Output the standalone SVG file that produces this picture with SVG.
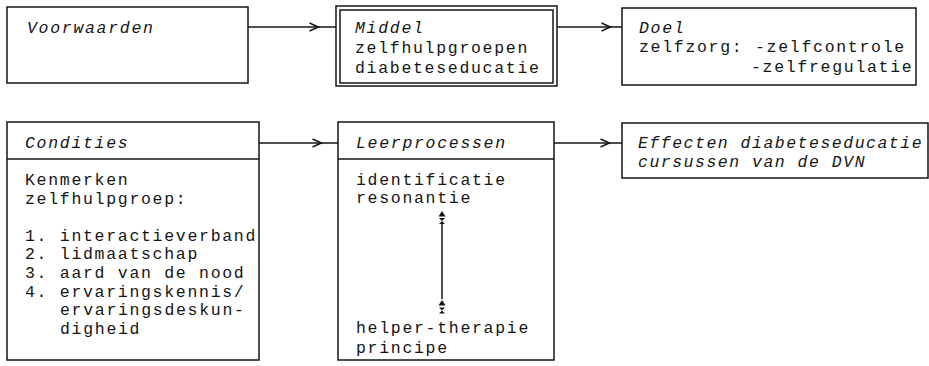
<svg xmlns="http://www.w3.org/2000/svg" width="929" height="366" viewBox="0 0 929 366">
  <style>
    .box { fill: #ffffff; stroke: #151515; stroke-width: 1.5; }
    .line { fill: none; stroke: #151515; stroke-width: 1.5; }
    .head { fill: none; stroke: #151515; stroke-width: 1.4; stroke-linejoin: miter; }
    .t { font-family: "Liberation Mono", "DejaVu Sans Mono", monospace; font-size: 16.5px; letter-spacing: 1.7px; fill: #151515; }
    .i { font-style: italic; }
    .tight { letter-spacing: 1.5px; }
  </style>
  <defs>
    <!-- open chevron used on the typed "-->" connectors -->
    <path id="chev" d="M -4.5 -4 L 4.5 0 L -4.5 4" class="head"/>
  </defs>

  <rect width="929" height="366" fill="#ffffff"/>

  <!-- connectors -->
  <g id="connectors">
    <line class="line" x1="248" y1="27" x2="336" y2="27"/>
    <use href="#chev" x="314" y="27"/>
    <line class="line" x1="557" y1="27" x2="622" y2="27"/>
    <use href="#chev" x="606" y="27"/>
    <line class="line" x1="259" y1="143" x2="338" y2="143"/>
    <use href="#chev" x="317" y="143"/>
    <line class="line" x1="554" y1="143" x2="622" y2="143"/>
    <use href="#chev" x="605" y="143"/>
  </g>

  <!-- top row -->
  <g id="voorwaarden">
    <rect class="box" x="7" y="7" width="241" height="76"/>
    <text class="t i" x="27" y="33">Voorwaarden</text>
  </g>

  <g id="middel">
    <rect class="box" x="336" y="6" width="221" height="80"/>
    <rect class="box" x="340" y="10" width="213" height="73"/>
    <text class="t i" x="355" y="33">Middel</text>
    <text class="t" x="355" y="53">zelfhulpgroepen</text>
    <text class="t" x="355" y="73">diabeteseducatie</text>
  </g>

  <g id="doel">
    <rect class="box" x="622" y="8" width="294" height="77"/>
    <text class="t i" x="639" y="33">Doel</text>
    <text class="t" x="639" y="52">zelfzorg: -zelfcontrole</text>
    <text class="t" x="751" y="72">-zelfregulatie</text>
  </g>

  <!-- bottom row -->
  <g id="condities">
    <rect class="box" x="7" y="122" width="252" height="238"/>
    <line class="line" x1="7" y1="159" x2="259" y2="159"/>
    <text class="t i" x="25" y="148">Condities</text>
    <text class="t" x="25" y="185">Kenmerken</text>
    <text class="t" x="25" y="203.6">zelfhulpgroep:</text>
    <text class="t" x="25" y="240.8">1. interactieverband</text>
    <text class="t" x="25" y="259.4">2. lidmaatschap</text>
    <text class="t" x="25" y="278">3. aard van de nood</text>
    <text class="t" x="25" y="296.6">4. ervaringskennis/</text>
    <text class="t" x="60" y="315.2">ervaringsdeskun-</text>
    <text class="t" x="60" y="333.8">digheid</text>
  </g>

  <g id="leerprocessen">
    <rect class="box" x="338" y="122" width="216" height="238"/>
    <line class="line" x1="338" y1="159" x2="554" y2="159"/>
    <text class="t i" x="356" y="148">Leerprocessen</text>
    <text class="t" x="356" y="185">identificatie</text>
    <text class="t" x="356" y="203">resonantie</text>
    <!-- two-way link between the process terms -->
    <g fill="#151515" stroke="none">
      <path d="M 438.5 216.5 L 442 211 L 445.5 216.5 Z"/>
      <path d="M 439 218 L 445 218 L 442 221 Z M 439 224 L 445 224 L 442 221 Z"/>
      <path d="M 438.5 305.5 L 442 300 L 445.5 305.5 Z"/>
      <path d="M 439 307.5 L 445 307.5 L 442 310.5 Z M 439 313.5 L 445 313.5 L 442 310.5 Z"/>
    </g>
    <line class="line" x1="442" y1="224" x2="442" y2="299"/>
    <text class="t" x="356" y="333">helper-therapie</text>
    <text class="t" x="356" y="352.5">principe</text>
  </g>

  <g id="effecten">
    <rect class="box" x="622" y="123" width="306" height="55"/>
    <text class="t i tight" x="638" y="148">Effecten diabeteseducatie</text>
    <text class="t i tight" x="638" y="167">cursussen van de DVN</text>
  </g>
</svg>
